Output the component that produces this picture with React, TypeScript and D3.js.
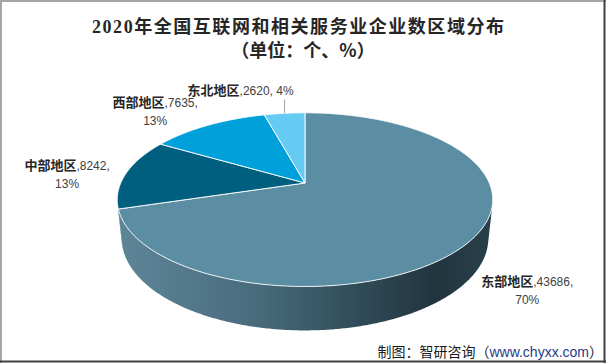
import React from 'react';
import * as d3 from 'd3';

const categories = ['东部地区', '中部地区', '西部地区', '东北地区'];
const values = [43686, 8242, 7635, 2620];
const percentLabels = ['70%', '13%', '13%', '4%'];
const topColors = ['#5B8DA3', '#005E7F', '#00A0DA', '#66CBF3'];
const sideColors = ['url(#sideGrad)', '#00465F', '#0079A6', '#4DA6C8'];
const titleLines = ['2020年全国互联网和相关服务业企业数区域分布', '（单位：个、%）'];
const sourceCn = '制图：智研咨询（';
const sourceUrl = 'www.chyxx.com';
const sourceEnd = '）';

// layout (not data)
const W = 606, H = 363;
const CX = 305, CY = 183;
const F = 857, D = 1, R = 0.215, THICK = 0.051;
const ALPHA = (27 * Math.PI) / 180;
const labelOffsets: [number, number][] = [[55, 47], [-59, -3], [-53, -18], [-44, -18]];
const twoLines = [true, true, true, false];

function proj(phi: number, y: number, rf = 1): [number, number] {
  const X = R * rf * Math.sin(phi);
  const Z = R * rf * Math.cos(phi);
  const Yc = y * Math.cos(ALPHA) + Z * Math.sin(ALPHA);
  const Zc = Z * Math.cos(ALPHA) - y * Math.sin(ALPHA);
  const w = D + Zc;
  return [CX + (F * X) / w, CY - (F * Yc) / w];
}

function arcPoints(a0: number, a1: number, y: number): [number, number][] {
  const n = Math.max(2, Math.ceil(Math.abs(a1 - a0) / (Math.PI / 360)));
  const pts: [number, number][] = [];
  for (let i = 0; i <= n; i++) pts.push(proj(a0 + ((a1 - a0) * i) / n, y));
  return pts;
}

export default function App() {
  const pie = d3.pie<number>().sort(null).value((d) => d)(values);
  const line = d3.line();
  const k = R / (D * Math.cos(ALPHA));
  const vis0 = Math.acos(-k);
  const vis1 = 2 * Math.PI - vis0;

  const sides = pie.map((p, i) => {
    const s = Math.max(p.startAngle, vis0);
    const e = Math.min(p.endAngle, vis1);
    if (e <= s) return null;
    const top = arcPoints(s, e, 0);
    const bot = arcPoints(e, s, -THICK);
    return <path key={'s' + i} d={line([...top, ...bot])! + 'Z'} fill={sideColors[i]} />;
  });

  const tops = pie.map((p, i) => {
    const pts = [proj(0, 0, 0), ...arcPoints(p.startAngle, p.endAngle, 0)];
    return (
      <path key={'t' + i} d={line(pts)! + 'Z'} fill={topColors[i]} stroke="#ffffff" strokeWidth={0.9} strokeLinejoin="round" />
    );
  });

  const [lx, ] = proj(-Math.PI / 2, 0);
  const [rx, ] = proj(Math.PI / 2, 0);

  const labels = pie.map((p, i) => {
    const mid = (p.startAngle + p.endAngle) / 2;
    const [ax, ay] = proj(mid, 0);
    const [dx, dy] = labelOffsets[i];
    const x = ax + dx, y = ay + dy;
    const numStyle = { fontFamily: 'Liberation Sans, Arial, sans-serif', fontSize: 12, fill: '#404040' };
    const cjkStyle = { fontFamily: 'Noto Sans CJK SC, sans-serif', fontSize: 13, fontWeight: 700, fill: '#262626' };
    return (
      <g key={'l' + i}>
        {!twoLines[i] && (
          <line x1={ax} y1={ay} x2={ax} y2={y + 4} stroke="#A6A6A6" strokeWidth={1} />
        )}
        {twoLines[i] ? (
          <>
            <text x={x} y={y} textAnchor="middle">
              <tspan style={cjkStyle}>{categories[i]}</tspan>
              <tspan style={numStyle}>{`,${values[i]},`}</tspan>
            </text>
            <text x={x} y={y + 18} textAnchor="middle" style={numStyle}>{percentLabels[i]}</text>
          </>
        ) : (
          <text x={x} y={y} textAnchor="middle">
            <tspan style={cjkStyle}>{categories[i]}</tspan>
            <tspan style={numStyle}>{`,${values[i]}, ${percentLabels[i]}`}</tspan>
          </text>
        )}
      </g>
    );
  });

  return (
    <svg width={W} height={H} style={{ position: 'absolute', left: 0, top: 0, background: '#fff' }}>
      <defs>
        <linearGradient id="sideGrad" gradientUnits="userSpaceOnUse" x1={lx} y1={0} x2={rx} y2={0}>
          <stop offset="0" stopColor="#5D8598" />
          <stop offset="0.35" stopColor="#4A6D7E" />
          <stop offset="0.65" stopColor="#304B58" />
          <stop offset="0.85" stopColor="#22353F" />
          <stop offset="1" stopColor="#283F4A" />
        </linearGradient>
      </defs>
      <rect x={0} y={0} width={W} height={H} fill="#ffffff" />
      <text x={298} y={33} textAnchor="middle" textLength={412} lengthAdjust="spacing"
        style={{ fontFamily: 'Liberation Serif, Noto Sans CJK SC, serif', fontSize: 18, fontWeight: 700, fill: '#262626' }}>
        {titleLines[0]}
      </text>
      <text x={303} y={57} textAnchor="middle"
        style={{ fontFamily: 'Noto Sans CJK SC, serif', fontSize: 18, fontWeight: 700, fill: '#262626' }}>
        {titleLines[1]}
      </text>
      {sides}
      {tops}
      {labels}
      <text x={603} y={357} textAnchor="end" style={{ fontSize: 14 }}>
        <tspan style={{ fontFamily: 'Noto Sans CJK SC, sans-serif', fill: '#1a1a1a' }}>{sourceCn}</tspan>
        <tspan style={{ fontFamily: 'Liberation Sans, Arial, sans-serif', fill: '#1F3C88' }}>{sourceUrl}</tspan>
        <tspan style={{ fontFamily: 'Noto Sans CJK SC, sans-serif', fill: '#1a1a1a' }}>{sourceEnd}</tspan>
      </text>
      <line x1={1} y1={0} x2={1} y2={H} stroke="#A6A6A6" strokeWidth={2} />
      <line x1={0} y1={1} x2={W} y2={1} stroke="#A6A6A6" strokeWidth={2} />
      <line x1={W - 1.5} y1={0} x2={W - 1.5} y2={H} stroke="#404040" strokeWidth={2} />
      <line x1={0} y1={H - 1.5} x2={W} y2={H - 1.5} stroke="#404040" strokeWidth={2} />
    </svg>
  );
}
